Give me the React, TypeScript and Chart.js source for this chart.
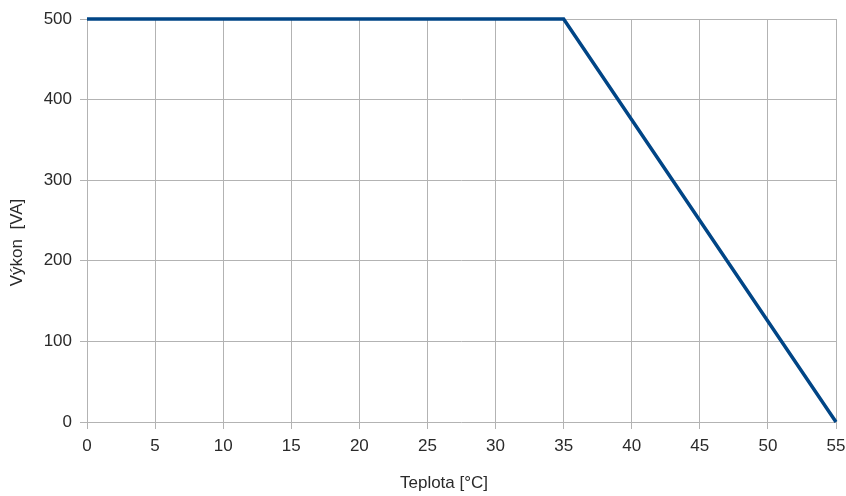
import React, { useEffect, useRef } from "react";
import { Chart, registerables } from "chart.js";

Chart.register(...registerables);

// Data
const temperatures: number[] = [0, 35, 55];
const power: number[] = [500, 500, 0];

// Axis ranges / ticks
const xTicks: number[] = [0, 5, 10, 15, 20, 25, 30, 35, 40, 45, 50, 55];
const yTicks: number[] = [0, 100, 200, 300, 400, 500];

const xTitle = "Teplota [°C]";
const yTitle = "Výkon  [VA]";

const FONT = "'Liberation Sans', Arial, sans-serif";
const TEXT_COLOR = "#2a2a2a";
const GRID_COLOR = "#b3b3b3";
const LINE_COLOR = "#004586";

const titlesPlugin = {
  id: "axisTitlesCustom",
  afterDraw(chart: any) {
    const { ctx, chartArea } = chart;
    ctx.save();
    ctx.fillStyle = TEXT_COLOR;
    ctx.font = `17px ${FONT}`;
    ctx.textAlign = "center";
    ctx.textBaseline = "middle";
    // x title
    ctx.fillText(xTitle, chartArea.left + 357, 483.5);
    // y title
    ctx.translate(17.5, chartArea.top + 223.5);
    ctx.rotate(-Math.PI / 2);
    ctx.fillText(yTitle, 0, 0);
    ctx.restore();
  },
};

export default function App() {
  const ref = useRef<HTMLCanvasElement | null>(null);

  useEffect(() => {
    if (!ref.current) return;
    const chart = new Chart(ref.current, {
      type: "line",
      data: {
        datasets: [
          {
            data: temperatures.map((t, i) => ({ x: t, y: power[i] })),
            borderColor: LINE_COLOR,
            backgroundColor: LINE_COLOR,
            borderWidth: 3.5,
            pointRadius: 0,
            pointHoverRadius: 0,
            tension: 0,
            fill: false,
            clip: false as any,
          },
        ],
      },
      options: {
        animation: false,
        responsive: false,
        devicePixelRatio: 1,
        events: [],
        layout: { padding: { left: 0, right: 10, top: 19, bottom: 0 } },
        plugins: {
          legend: { display: false },
          tooltip: { enabled: false },
        },
        scales: {
          x: {
            type: "linear",
            min: xTicks[0],
            max: xTicks[xTicks.length - 1],
            afterBuildTicks: (scale: any) => {
              scale.ticks = xTicks.map((v) => ({ value: v }));
            },
            afterFit: (scale: any) => {
              scale.height = 74;
              scale.paddingLeft = 0;
              scale.paddingRight = 0;
            },
            grid: {
              color: GRID_COLOR,
              tickColor: GRID_COLOR,
              tickLength: 7,
              lineWidth: 1,
            },
            border: { display: false },
            ticks: {
              color: TEXT_COLOR,
              font: { family: FONT, size: 17 },
              padding: 7,
              maxRotation: 0,
              autoSkip: false,
            },
          },
          y: {
            type: "linear",
            min: yTicks[0],
            max: yTicks[yTicks.length - 1],
            afterBuildTicks: (scale: any) => {
              scale.ticks = yTicks.map((v) => ({ value: v }));
            },
            afterFit: (scale: any) => {
              scale.width = 87;
              scale.paddingTop = 0;
              scale.paddingBottom = 0;
            },
            grid: {
              color: GRID_COLOR,
              tickColor: GRID_COLOR,
              tickLength: 7,
              lineWidth: 1,
            },
            border: { display: false },
            ticks: {
              color: TEXT_COLOR,
              font: { family: FONT, size: 17 },
              padding: 8,
              autoSkip: false,
            },
          },
        },
      },
      plugins: [titlesPlugin],
    });
    return () => chart.destroy();
  }, []);

  return (
    <div style={{ position: "absolute", left: 0, top: 0, width: 846, height: 496, background: "#fff" }}>
      <canvas ref={ref} width={846} height={496} style={{ display: "block" }} />
    </div>
  );
}
